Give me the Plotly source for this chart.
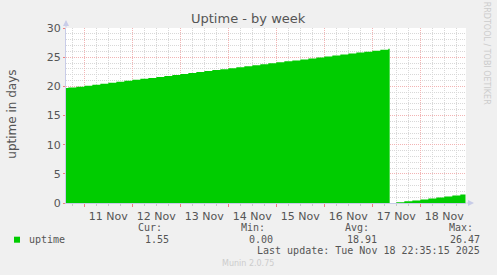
import plotly.graph_objects as go

# ---- data ----
times = [
    "2025-11-10 14:50", "2025-11-10 16:00", "2025-11-10 20:00",
    "2025-11-11 00:00", "2025-11-11 04:00", "2025-11-11 08:00", "2025-11-11 12:00", "2025-11-11 16:00", "2025-11-11 20:00",
    "2025-11-12 00:00", "2025-11-12 04:00", "2025-11-12 08:00", "2025-11-12 12:00", "2025-11-12 16:00", "2025-11-12 20:00",
    "2025-11-13 00:00", "2025-11-13 04:00", "2025-11-13 08:00", "2025-11-13 12:00", "2025-11-13 16:00", "2025-11-13 20:00",
    "2025-11-14 00:00", "2025-11-14 04:00", "2025-11-14 08:00", "2025-11-14 12:00", "2025-11-14 16:00", "2025-11-14 20:00",
    "2025-11-15 00:00", "2025-11-15 04:00", "2025-11-15 08:00", "2025-11-15 12:00", "2025-11-15 16:00", "2025-11-15 20:00",
    "2025-11-16 00:00", "2025-11-16 04:00", "2025-11-16 08:00", "2025-11-16 12:00", "2025-11-16 16:00", "2025-11-16 20:00",
    "2025-11-17 00:00", "2025-11-17 04:00", "2025-11-17 08:00",
    "2025-11-17 08:40", "2025-11-17 12:00", "2025-11-17 16:00", "2025-11-17 20:00",
    "2025-11-18 00:00", "2025-11-18 04:00", "2025-11-18 08:00", "2025-11-18 12:00", "2025-11-18 16:00", "2025-11-18 20:00",
    "2025-11-18 22:35",
]
uptime = [
    19.72, 19.78, 19.94,
    20.11, 20.28, 20.44, 20.61, 20.78, 20.94,
    21.11, 21.28, 21.44, 21.61, 21.78, 21.94,
    22.11, 22.28, 22.44, 22.61, 22.78, 22.94,
    23.11, 23.28, 23.44, 23.61, 23.78, 23.94,
    24.11, 24.28, 24.44, 24.61, 24.78, 24.94,
    25.11, 25.28, 25.44, 25.61, 25.78, 25.94,
    26.11, 26.28, 26.44,
    0.00, 0.11, 0.28, 0.44,
    0.61, 0.78, 0.94, 1.11, 1.28, 1.44,
    1.55,
]
x_range = ["2025-11-10 14:50", "2025-11-18 22:50"]
y_range = [0, 30]
title = "Uptime - by week"
y_title = "uptime in days"
series_name = "uptime"
stats_labels = ["Cur:", "Min:", "Avg:", "Max:"]
stats_values = ["1.55", "0.00", "18.91", "26.47"]
last_update = "Last update: Tue Nov 18 22:35:15 2025"
footer = "Munin 2.0.75"
side_text = "RRDTOOL / TOBI OETIKER"

W, H = 497, 275
L, R, T, B = 66, 466, 28.3, 203.3
GREEN = "#00CC00"
TXT = "#555555"

def px(x):
    return (x - L) / (R - L)

def py(y):
    return (B - y) / (B - T)

fig = go.Figure()
fig.add_trace(go.Scatter(
    x=times, y=uptime, mode="lines", line=dict(shape="hv", width=0, color=GREEN),
    fill="tozeroy", fillcolor=GREEN, hoverinfo="skip", showlegend=False,
))

fig.update_layout(
    width=W, height=H,
    margin=dict(l=L, r=W - R, t=T, b=H - B, pad=0),
    paper_bgcolor="#F0F0F0", plot_bgcolor="#FFFFFF",
    font=dict(family="DejaVu Sans", size=11, color=TXT),
    showlegend=False,
)
fig.update_xaxes(
    type="date", range=x_range, tick0="2025-11-11", dtick=86400000,
    ticklabelmode="period", tickformat="%d %b",
    showgrid=True, gridcolor="#F2B4B4", griddash="1px,1px", gridwidth=1,
    ticks="outside", ticklen=3, tickcolor="#F08080",
    showline=True, linecolor="#C8CCE8", linewidth=1,
    tickfont=dict(size=11, color=TXT),
    minor=dict(dtick=6 * 3600000, showgrid=True, gridcolor="#D8D8D8", griddash="1px,1px",
               ticks="outside", ticklen=2, tickcolor="#C8C8C8"),
    fixedrange=True, zeroline=False,
)
fig.update_yaxes(
    range=y_range, dtick=5, tick0=0,
    showgrid=True, gridcolor="#F2B4B4", griddash="1px,1px", gridwidth=1,
    ticks="outside", ticklen=2, tickcolor="#F08080",
    showline=True, linecolor="#C8CCE8", linewidth=1,
    tickfont=dict(size=11, color=TXT),
    minor=dict(dtick=1, showgrid=True, gridcolor="#D8D8D8", griddash="1px,1px"),
    fixedrange=True, zeroline=False,
)

ann = []
def text(x, y, s, size, color=TXT, family="DejaVu Sans", xanchor="left", angle=0):
    ann.append(dict(xref="paper", yref="paper", x=px(x), y=py(y), text=s, showarrow=False,
                    xanchor=xanchor, yanchor="middle", textangle=angle,
                    font=dict(size=size, color=color, family=family)))

text(248, 19, title, 13, xanchor="center")
text(12, 115, y_title, 12, xanchor="center", angle=-90)
text(486, 53, side_text, 8, color="#CCCCCC", xanchor="center", angle=90)

MONO = "DejaVu Sans Mono"
text(27, 240, series_name, 10, family=MONO)
label_x = [136, 239, 343, 447]
value_right = [171, 275, 379, 482]
for lx, lab in zip(label_x, stats_labels):
    text(lx, 228, lab, 10, family=MONO)
for vx, val in zip(value_right, stats_values):
    text(vx, 240, val, 10, family=MONO, xanchor="right")
text(482, 251, last_update, 10, family=MONO, xanchor="right")
text(248, 264, footer, 8, color="#CCCCCC", xanchor="center")

# axis arrows
ann.append(dict(xref="paper", yref="paper", x=px(L), y=py(T - 8), ax=0, ay=9,
                axref="pixel", ayref="pixel", showarrow=True, arrowhead=2, arrowsize=1.2,
                arrowwidth=1, arrowcolor="#C8CCE8", text=""))
ann.append(dict(xref="paper", yref="paper", x=px(R + 8), y=py(B), ax=-9, ay=0,
                axref="pixel", ayref="pixel", showarrow=True, arrowhead=2, arrowsize=1.2,
                arrowwidth=1, arrowcolor="#C8CCE8", text=""))
fig.update_layout(annotations=ann)

# legend color square
fig.add_shape(type="rect", xref="paper", yref="paper",
              x0=px(14), x1=px(20), y0=py(243), y1=py(237),
              fillcolor=GREEN, line=dict(width=0))

fig.write_html("out.html")
